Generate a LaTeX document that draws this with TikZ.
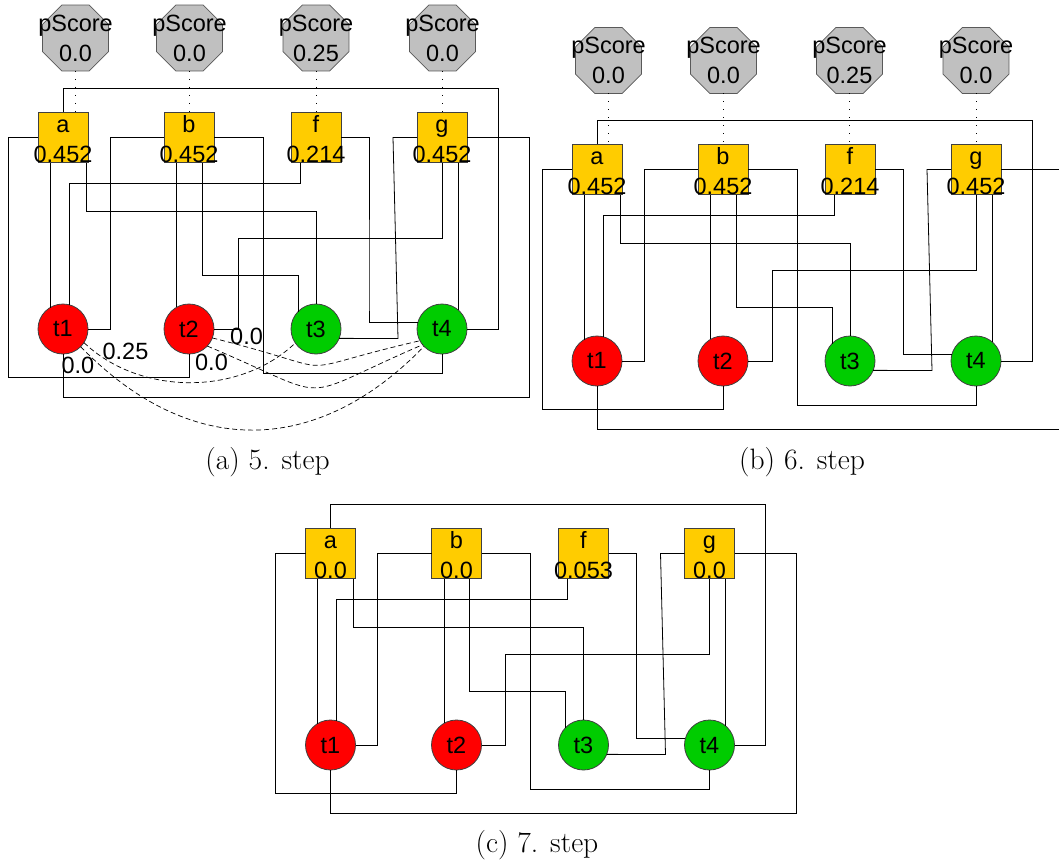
\documentclass[tikz,border=0pt]{standalone}
\usepackage{fontspec}
\newfontfamily\diagfont{Liberation Sans}
\usetikzlibrary{shapes.geometric,calc}
\definecolor{boxfill}{HTML}{FFCC00}
\definecolor{redfill}{HTML}{FF0000}
\definecolor{greenfill}{HTML}{00CC00}
\definecolor{octfill}{HTML}{C0C0C0}
\newcommand{\fbtext}[2]{\rule{0pt}{20pt}#1\\\makebox[0pt]{#2}}
\newcommand{\psctext}[1]{\makebox[0pt]{pScore}\\\makebox[0pt]{#1}}
\tikzset{
  dfont/.style={font=\diagfont\fontsize{23.5}{30}\selectfont},
  featbox/.style={draw=black!75, line width=0.8pt, fill=boxfill, minimum width=50pt, minimum height=50pt,
    inner sep=0pt, outer sep=0pt, align=center, dfont},
  tnode/.style={circle, draw=black!75, line width=0.8pt, minimum size=50pt, inner sep=0pt, outer sep=0pt, dfont},
  redt/.style={tnode, fill=redfill},
  greent/.style={tnode, fill=greenfill},
  pscore/.style={regular polygon, regular polygon sides=8, minimum size=66pt, inner sep=0pt, outer sep=0pt,
    draw=black!65, line width=0.8pt, fill=octfill, align=center, dfont},
  wire/.style={draw=black, line width=0.8pt},
  dotline/.style={draw=black, line width=1pt, dash pattern=on 1pt off 7pt},
  dashline/.style={draw=black, line width=0.7pt, dash pattern=on 5pt off 3pt},
  elabel/.style={dfont, inner sep=0pt},
  caption/.style={font=\fontsize{29.5}{34}\selectfont, inner sep=0pt}
}
\newcommand{\wiring}[1]{%
  \draw[wire] (a#1.north) |- (498,88) |- (t4#1.east);
  \draw[wire] (a#1.west) -| (8,377) -| (t2#1.south);
  \draw[wire] (a#1.south -| t1#1.121) -- (t1#1.121);
  \draw[wire] ([xshift=-16pt]f#1.south) -- ++(0,20.5) -| (t1#1.76);
  \draw[wire] ([xshift=23pt]a#1.south) -- ++(0,48.5) -| (t3#1.north);
  \draw[wire] (b#1.west) -| (110,329) -- (t1#1.east);
  \draw[wire] (b#1.east) -| (263,373) -| (t4#1.south);
  \draw[wire] (b#1.south -| t2#1.119) -- (t2#1.119);
  \draw[wire] ([xshift=13pt]b#1.south) -- ++(0,112.5) -| (t3#1.136);
  \draw[wire] (g#1.south) |- (238,238) |- (t2#1.east);
  \draw[wire] (f#1.east) -| (369,300) |- (t4#1.164);
  \draw[wire] (g#1.west) -- (393,137.5) -- (398,338.5) -- (t3#1.-22);
  \draw[wire] (g#1.south -| t4#1.50) -- (t4#1.50);
  \draw[wire] (g#1.east) -| (529,397) -| (t1#1.south);
}
\begin{document}
\begin{tikzpicture}[x=1pt,y=-1pt]
\useasboundingbox (0,0) rectangle (1059,861);
\clip (0,0) rectangle (1059,861);
\fill[white] (0,0) rectangle (1059,861);

% ---------- panel (a) ----------
\begin{scope}
  \node[pscore] (pA1) at (75.5,38) {\psctext{0.0}};
  \node[pscore] (pA2) at (189.5,38) {\psctext{0.0}};
  \node[pscore] (pA3) at (316,38) {\psctext{0.25}};
  \node[pscore] (pA4) at (442.5,38) {\psctext{0.0}};
  \node[featbox] (aA) at (63,137.5) {\fbtext{a}{0.452}};
  \node[featbox] (bA) at (189,137.5) {\fbtext{b}{0.452}};
  \node[featbox] (fA) at (316,137.5) {\fbtext{f}{0.214}};
  \node[featbox] (gA) at (442,137.5) {\fbtext{g}{0.452}};
  \node[redt] (t1A) at (63,329) {t1};
  \node[redt] (t2A) at (189,329) {t2};
  \node[greent] (t3A) at (316,329) {t3};
  \node[greent] (t4A) at (442,329) {t4};
  \draw[dotline] (pA1.south) -- (pA1.south |- aA.north);
  \draw[dotline] (pA2.south) -- (pA2.south |- bA.north);
  \draw[dotline] (pA3.south) -- (pA3.south |- fA.north);
  \draw[dotline] (pA4.south) -- (pA4.south |- gA.north);
  \wiring{A}
  \draw[dashline] (t1A.-33) .. controls +(56,53.4) and +(-55.3,53) .. (t3A.214)
     node[elabel, at start, xshift=41.5pt, yshift=-8.4pt] (lA1) {0.25};
  \draw[dashline] (t1A.-45) .. controls +(108,111.3) and +(-108,111.6) .. (t4A.224)
     node[elabel, at start, xshift=-2.7pt, yshift=-18.3pt] (lA2) {0.0};
  \draw[dashline] (t2A.-21) .. controls +(144,36) and +(-144,33.3) .. (t4A.208)
     node[elabel, at start, xshift=34.2pt, yshift=2pt] (lA3) {0.0};
  \draw[dashline] (t2A.-43) .. controls +(133,56) and +(-133,57.3) .. (t4A.219)
     node[elabel, at start, xshift=4.2pt, yshift=-16.5pt] (lA4) {0.0};
\end{scope}
\node[caption] (capA) at (267.5,462) {(a) 5. step};

% ---------- panel (b) ----------
\begin{scope}[shift={(534,32)}]
  \node[pscore] (pB1) at (74.5,28.5) {\psctext{0.0}};
  \node[pscore] (pB2) at (189.5,28.5) {\psctext{0.0}};
  \node[pscore] (pB3) at (315.5,28.5) {\psctext{0.25}};
  \node[pscore] (pB4) at (442,28.5) {\psctext{0.0}};
  \node[featbox] (aB) at (63,137.5) {\fbtext{a}{0.452}};
  \node[featbox] (bB) at (189,137.5) {\fbtext{b}{0.452}};
  \node[featbox] (fB) at (316,137.5) {\fbtext{f}{0.214}};
  \node[featbox] (gB) at (442,137.5) {\fbtext{g}{0.452}};
  \node[redt] (t1B) at (63,329) {t1};
  \node[redt] (t2B) at (189,329) {t2};
  \node[greent] (t3B) at (316,329) {t3};
  \node[greent] (t4B) at (442,329) {t4};
  \draw[dotline] (pB1.south) -- (pB1.south |- aB.north);
  \draw[dotline] (pB2.south) -- (pB2.south |- bB.north);
  \draw[dotline] (pB3.south) -- (pB3.south |- fB.north);
  \draw[dotline] (pB4.south) -- (pB4.south |- gB.north);
  \wiring{B}
\end{scope}
\node[caption] (capB) at (802,462) {(b) 6. step};

% ---------- panel (c) ----------
\begin{scope}[shift={(267.5,416)}]
  \node[featbox] (aC) at (63,137.5) {\fbtext{a}{0.0}};
  \node[featbox] (bC) at (189,137.5) {\fbtext{b}{0.0}};
  \node[featbox] (fC) at (316,137.5) {\fbtext{f}{0.053}};
  \node[featbox] (gC) at (442,137.5) {\fbtext{g}{0.0}};
  \node[redt] (t1C) at (63,329) {t1};
  \node[redt] (t2C) at (189,329) {t2};
  \node[greent] (t3C) at (316,329) {t3};
  \node[greent] (t4C) at (442,329) {t4};
  \wiring{C}
\end{scope}
\node[caption] (capC) at (537,845) {(c) 7. step};
\end{tikzpicture}
\end{document}
